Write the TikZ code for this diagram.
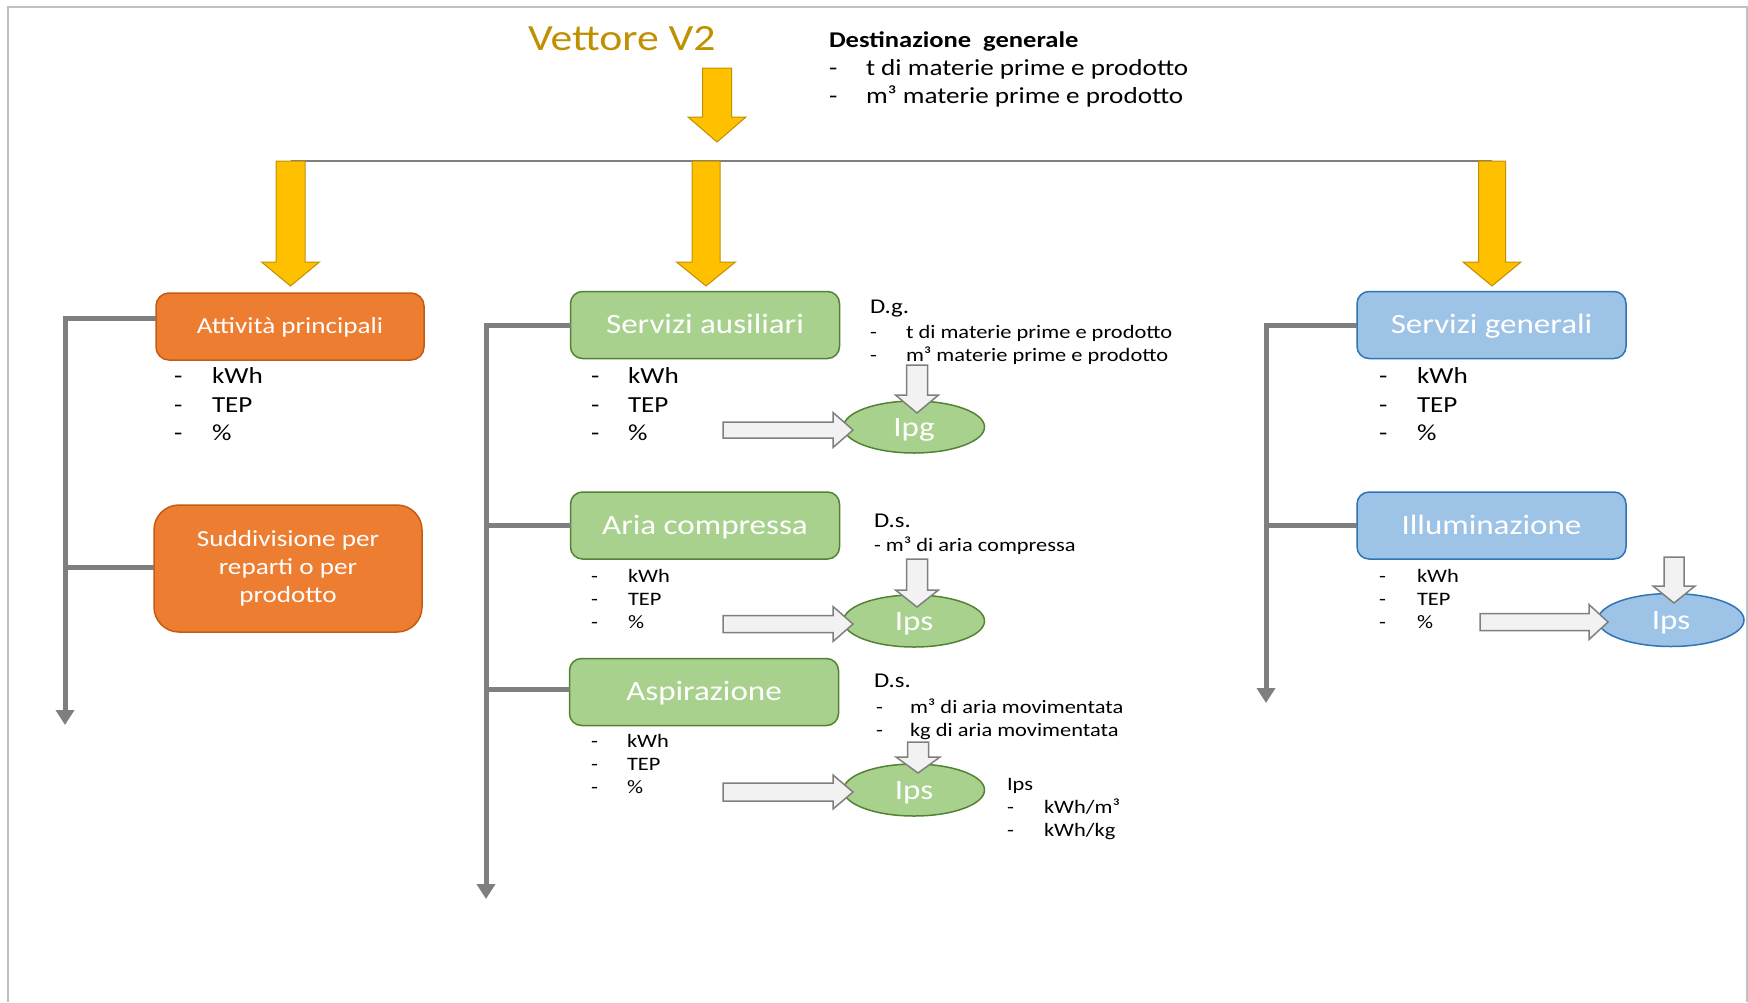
\documentclass[tikz,border=0pt]{standalone}
\usepackage{fontspec}
\setmainfont{Carlito}[FakeStretch=1.18]
\usetikzlibrary{shapes.geometric,arrows.meta}
\definecolor{goldtxt}{HTML}{BF9000}
\definecolor{yelfill}{HTML}{FFC000}
\definecolor{yeldraw}{HTML}{BF9000}
\definecolor{orfill}{HTML}{ED7D31}
\definecolor{ordraw}{HTML}{C55A11}
\definecolor{grfill}{HTML}{A9D18E}
\definecolor{grdraw}{HTML}{548235}
\definecolor{blfill}{HTML}{9DC3E6}
\definecolor{bldraw}{HTML}{2E75B6}
\definecolor{conncol}{HTML}{7F7F7F}
\definecolor{framecol}{HTML}{C0C0C0}
\definecolor{blkfill}{HTML}{F2F2F2}
\newcommand\downblock[7]{\filldraw[#1] (#2-#6,#3) -- (#2+#6,#3) -- (#2+#6,#4) -- (#2+#7,#4) -- (#2,#5) -- (#2-#7,#4) -- (#2-#6,#4) -- cycle;}
\newcommand\rightblock[7]{\filldraw[#1] (#3,#2-#6) -- (#4,#2-#6) -- (#4,#2-#7) -- (#5,#2) -- (#4,#2+#7) -- (#4,#2+#6) -- (#3,#2+#6) -- cycle;}
\newcommand\myitem[6]{\node[anchor=base west,#6] (#1d) at (#2,#4) {-}; \node[anchor=base west,#6] (#1t) at (#3,#4) {#5};}
\tikzset{
  every node/.style={inner sep=0pt, outer sep=0pt},
  titletxt/.style={font=\fontsize{37}{44}\selectfont, text=goldtxt},
  hd/.style={font=\bfseries\fontsize{22.5}{27}\selectfont},
  lstA/.style={font=\fontsize{23}{28}\selectfont},
  lstB/.style={font=\fontsize{19}{23}\selectfont},
  lstC/.style={font=\fontsize{21}{25}\selectfont},
  yelarrow/.style={fill=yelfill, draw=yeldraw, line width=1pt},
  grayarrow/.style={fill=blkfill, draw=conncol, line width=1.5pt},
  obox/.style={rectangle, rounded corners=13pt, fill=orfill, draw=ordraw, line width=1.5pt, text=white, align=center, font=\fontsize{23}{28}\selectfont},
  gbox/.style={rectangle, rounded corners=12pt, fill=grfill, draw=grdraw, line width=1.5pt, text=white, font=\fontsize{28}{33}\selectfont, minimum width=269pt, minimum height=67pt, text height=20pt, text depth=3pt},
  bbox/.style={rectangle, rounded corners=12pt, fill=blfill, draw=bldraw, line width=1.5pt, text=white, font=\fontsize{28}{33}\selectfont, minimum width=269pt, minimum height=67pt, text height=20pt, text depth=3pt},
  gell/.style={ellipse, fill=grfill, draw=grdraw, line width=1.5pt, text=white, font=\fontsize{28}{33}\selectfont, minimum width=141pt, minimum height=52pt, text height=20pt, text depth=1pt},
  bell/.style={ellipse, fill=blfill, draw=bldraw, line width=1.5pt, text=white, font=\fontsize{28}{33}\selectfont, minimum width=146pt, minimum height=53pt, text height=20pt, text depth=1pt},
  conn/.style={draw=conncol, line width=5pt, -{Triangle[width=18pt,length=15pt]}},
  connline/.style={draw=conncol, line width=5pt},
  thinline/.style={draw=conncol, line width=2pt}
}
\begin{document}
\begin{tikzpicture}[x=1pt,y=-1pt]
\useasboundingbox (0,0) rectangle (1748,1002);
% frame
\draw[framecol, line width=1.5pt] (8,1002) -- (8,7) -- (1747,7) -- (1747,1002);

% title and general destination
\node[titletxt, anchor=base west] (title) at (528,50) {Vettore V2};
\node[hd, anchor=base west] (dest) at (829,47) {Destinazione\ \ generale};
\myitem{dA}{829}{866}{75}{t di materie prime e prodotto}{lstA}
\myitem{dB}{829}{866}{103}{m³ materie prime e prodotto}{lstA}

% distribution line
\coordinate (hl) at (290.5,161);
\coordinate (hr) at (1492,161);
\draw[thinline] (hl) -- (hr);

% yellow arrows
\downblock{yelarrow}{717}{68}{117}{142}{14.5}{29}
\downblock{yelarrow}{290.5}{161}{262}{286}{14.5}{29}
\downblock{yelarrow}{706}{161}{262}{286}{14}{29.5}
\downblock{yelarrow}{1492}{161}{262}{286}{13.5}{29}

% boxes
\node[obox, minimum width=268pt, minimum height=67pt, text height=16pt, text depth=3pt] (attiv) at (290,326.5) {Attività principali};
\node[obox, rounded corners=25pt, minimum width=268pt, minimum height=127pt] (sudd) at (288,568.5) {Suddivisione per\\reparti o per\\prodotto};
\node[gbox] (servaus) at (705,325) {Servizi ausiliari};
\node[gbox] (aria) at (705,525.5) {Aria compressa};
\node[gbox] (aspir) at (704,692) {Aspirazione};
\node[bbox] (servgen) at (1491.5,325) {Servizi generali};
\node[bbox] (illum) at (1491.5,525.5) {Illuminazione};

% connectors
\coordinate (l1end) at (65,725);
\coordinate (l2end) at (486,899);
\coordinate (l3end) at (1266,703);
\draw[conn] ([yshift=8.5pt]attiv.west) -| (l1end);
\draw[connline] ([yshift=1.5pt]sudd.west) -- ([yshift=1.5pt]sudd.west -| l1end);
\draw[conn] (servaus.west) -| (l2end);
\draw[connline] (aria.west) -- (aria.west -| l2end);
\draw[connline] ([yshift=3pt]aspir.west) -- ([yshift=3pt]aspir.west -| l2end);
\draw[conn] (servgen.west) -| (l3end);
\draw[connline] (illum.west) -- (illum.west -| l3end);

% lists under boxes
\myitem{aA}{174}{212}{383}{kWh}{lstA}
\myitem{aB}{174}{212}{412}{TEP}{lstA}
\myitem{aC}{174}{212}{440}{\%}{lstA}
\myitem{sA}{591}{628}{383}{kWh}{lstA}
\myitem{sB}{591}{628}{412}{TEP}{lstA}
\myitem{sC}{591}{628}{440}{\%}{lstA}
\myitem{gA}{1379}{1417}{383}{kWh}{lstA}
\myitem{gB}{1379}{1417}{412}{TEP}{lstA}
\myitem{gC}{1379}{1417}{440}{\%}{lstA}
\myitem{cA}{591}{628}{582}{kWh}{lstB}
\myitem{cB}{591}{628}{605}{TEP}{lstB}
\myitem{cC}{591}{628}{628}{\%}{lstB}
\myitem{pA}{591}{627}{747}{kWh}{lstB}
\myitem{pB}{591}{627}{770}{TEP}{lstB}
\myitem{pC}{591}{627}{793}{\%}{lstB}
\myitem{iA}{1379}{1417}{582}{kWh}{lstB}
\myitem{iB}{1379}{1417}{605}{TEP}{lstB}
\myitem{iC}{1379}{1417}{628}{\%}{lstB}

% side notes
\node[lstC, anchor=base west] (dg) at (870,313) {D.g.};
\myitem{gdA}{870}{906}{338}{t di materie prime e prodotto}{lstB}
\myitem{gdB}{870}{906}{361}{m³ materie prime e prodotto}{lstB}
\node[lstC, anchor=base west] (ds1) at (874,527) {D.s.};
\node[lstB, anchor=base west] (ds1t) at (874,551) {- m³ di aria compressa};
\node[lstC, anchor=base west] (ds2) at (874,687) {D.s.};
\myitem{dsA}{876}{910}{713}{m³ di aria movimentata}{lstB}
\myitem{dsB}{876}{910}{736}{kg di aria movimentata}{lstB}
\node[lstB, anchor=base west] (ipsl) at (1007,790) {Ips};
\myitem{ipA}{1007}{1044}{813}{kWh/m³}{lstB}
\myitem{ipB}{1007}{1044}{836}{kWh/kg}{lstB}

% ellipses
\node[gell] (ipg) at (914,427) {Ipg};
\node[gell] (ips1) at (914,621) {Ips};
\node[gell] (ips2) at (914,790) {Ips};
\node[bell] (ips3) at (1671,620) {Ips};

% gray block arrows
\downblock{grayarrow}{917}{365}{395}{413}{10.5}{21.5}
\rightblock{grayarrow}{430}{723}{833}{853}{8}{17.5}
\downblock{grayarrow}{917}{559}{590}{607}{10.5}{21.5}
\rightblock{grayarrow}{624}{723}{833}{853}{8.5}{17.5}
\downblock{grayarrow}{918}{742}{757}{773}{10.5}{22}
\rightblock{grayarrow}{792}{723}{833}{853}{9}{17}
\downblock{grayarrow}{1674}{557}{586}{603}{10}{21}
\rightblock{grayarrow}{622}{1480}{1589}{1608}{8.5}{17.5}
\end{tikzpicture}
\end{document}
